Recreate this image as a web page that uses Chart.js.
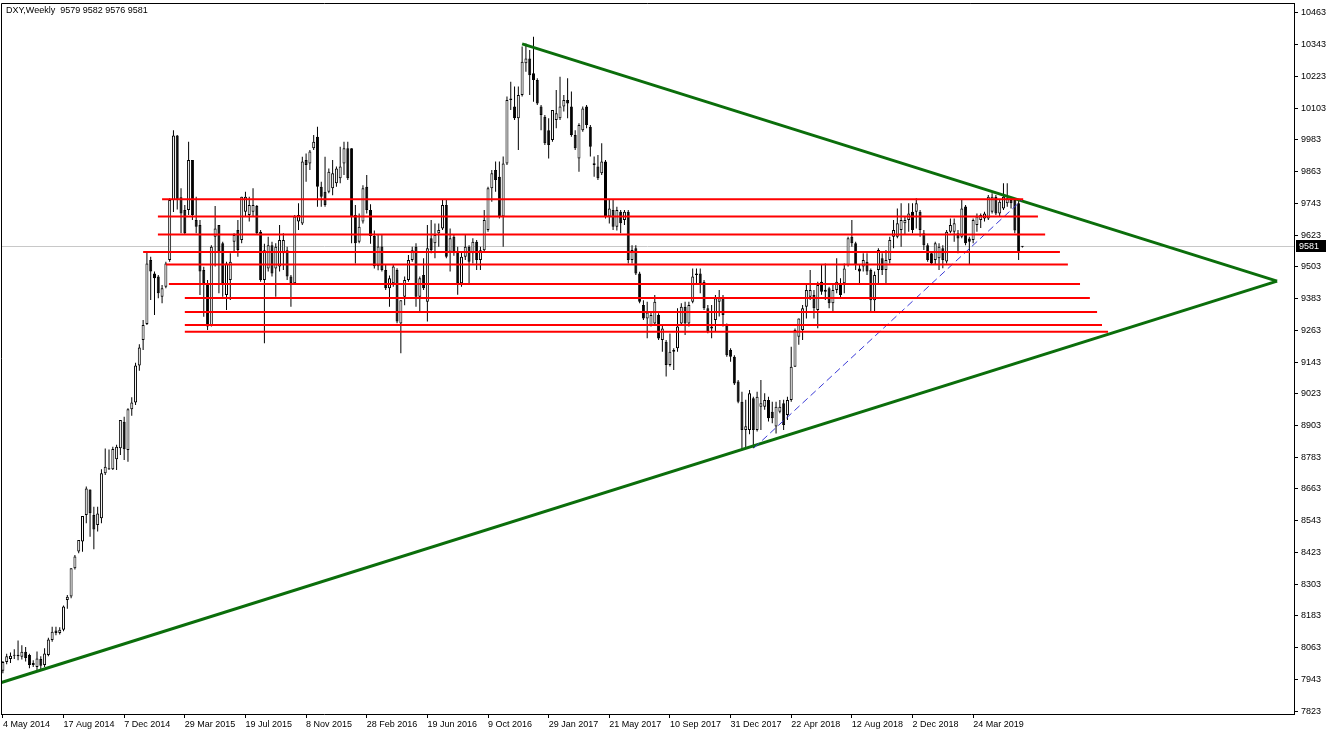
<!DOCTYPE html>
<html>
<head>
<meta charset="utf-8">
<script src="https://cdn.jsdelivr.net/npm/chart.js@4.4.1/dist/chart.umd.min.js"></script>
<style>
  html, body { margin: 0; padding: 0; background: #fff; }
  #wrap { width: 1332px; height: 734px; position: relative; }
</style>
</head>
<body>
<div id="wrap"><canvas id="dxyChart"></canvas></div>
<script>
// ===== DXY Weekly - candles (price x100) =====
const opens = [
  7975,8008,8020,8032,8036,8028,8047,8035,7997,7990,
  8020,7997,8035,8092,8128,8118,8130,8243,8256,8363,
  8426,8464,8564,8661,8564,8527,8552,8722,8737,8737,
  8775,8817,8917,8810,8964,8990,9130,9226,9287,9529,
  9478,9466,9390,9428,9529,9756,10000,9766,9718,9718,
  9907,9680,9661,9491,9441,9283,9617,9661,9592,9396,
  9453,9598,9642,9604,9711,9699,9711,9733,9636,9453,
  9497,9585,9497,9504,9554,9566,9466,9441,9674,9667,
  9907,9894,9951,9995,9806,9787,9787,9800,9819,9838,
  9894,9951,9951,9699,9598,9674,9806,9718,9620,9505,
  9580,9491,9422,9441,9491,9289,9390,9453,9529,9579,
  9390,9472,9371,9611,9592,9630,9648,9737,9560,9617,
  9560,9441,9541,9579,9554,9598,9529,9566,9642,9800,
  9869,9844,9693,9894,10134,10109,10065,10153,10273,10291,
  10235,10210,10109,10071,10020,9983,10058,10065,10109,10134,
  10109,10002,9913,10020,10109,10033,9895,9882,9857,9901,
  9693,9718,9655,9711,9680,9711,9529,9573,9478,9359,
  9308,9283,9289,9321,9226,9220,9132,9188,9195,9289,
  9352,9289,9371,9472,9478,9447,9346,9270,9302,9371,
  9384,9283,9188,9163,9069,8993,8886,8886,9006,8886,
  8974,8974,8999,8955,8899,8955,8987,8943,8999,9125,
  9239,9264,9352,9390,9396,9340,9447,9409,9422,9365,
  9415,9434,9441,9510,9617,9592,9497,9504,9522,9491,
  9377,9491,9535,9491,9529,9617,9617,9642,9668,9680,
  9711,9711,9711,9630,9585,9554,9529,9535,9573,9523,
  9636,9636,9630,9617,9731,9610,9604,9661,9680,9686,
  9686,9711,9768,9705,9724,9743,9756,9756,9743,9579
];
const highs = [
  8012,8040,8044,8057,8090,8072,8065,8040,8015,8048,
  8030,8060,8100,8142,8142,8140,8222,8262,8363,8413,
  8470,8561,8672,8661,8596,8596,8737,8816,8812,8823,
  8830,8924,8936,8968,9010,9140,9210,9302,9560,9541,
  9485,9472,9434,9522,9762,10020,10002,9800,9737,9976,
  9907,9768,9680,9503,9453,9585,9733,9661,9598,9522,
  9554,9630,9680,9768,9787,9768,9800,9737,9642,9590,
  9617,9598,9592,9661,9630,9579,9472,9699,9743,9919,
  9932,9945,10002,10033,9825,9919,9875,9907,9882,9957,
  9976,9976,9951,9737,9705,9812,9850,9740,9640,9623,
  9623,9510,9470,9510,9498,9377,9466,9548,9579,9592,
  9466,9535,9661,9680,9667,9667,9756,9756,9648,9623,
  9579,9560,9623,9585,9611,9604,9579,9718,9806,9869,
  9901,9901,9920,10147,10203,10185,10185,10336,10348,10323,
  10373,10216,10115,10077,10065,10096,10172,10222,10153,10216,
  10166,10020,10046,10109,10115,10039,9920,9926,9970,9907,
  9756,9756,9730,9718,9718,9718,9585,9585,9484,9377,
  9371,9334,9396,9327,9283,9226,9251,9195,9346,9365,
  9371,9371,9497,9497,9497,9453,9359,9359,9396,9415,
  9396,9289,9195,9169,9075,9031,9000,9037,9012,9031,
  9075,9025,9012,8993,8993,8999,9000,9012,9201,9270,
  9308,9359,9434,9491,9415,9447,9510,9516,9428,9441,
  9535,9460,9516,9617,9680,9598,9510,9554,9554,9497,
  9485,9573,9554,9567,9617,9680,9724,9743,9693,9743,
  9743,9762,9718,9642,9592,9560,9598,9592,9585,9642,
  9686,9686,9642,9756,9737,9617,9686,9705,9705,9711,
  9775,9781,9775,9756,9819,9819,9762,9762,9756,9582
];
const lows = [
  7966,8000,8005,8020,8015,8018,8010,7985,7990,7978,
  7975,7990,8030,8085,8110,8112,8125,8210,8250,8358,
  8420,8425,8533,8482,8435,8502,8533,8716,8735,8735,
  8735,8791,8772,8766,8940,8980,9110,9188,9283,9378,
  9321,9384,9365,9422,9522,9710,9720,9630,9624,9699,
  9680,9630,9396,9314,9264,9277,9504,9403,9390,9340,
  9378,9560,9541,9592,9693,9674,9693,9624,9447,9214,
  9485,9466,9390,9485,9491,9453,9352,9434,9642,9661,
  9825,9869,9945,9730,9730,9730,9781,9774,9806,9819,
  9850,9831,9592,9516,9592,9667,9705,9590,9497,9490,
  9485,9415,9352,9428,9290,9176,9358,9447,9522,9352,
  9334,9415,9296,9554,9535,9579,9642,9535,9485,9545,
  9397,9428,9529,9441,9516,9491,9491,9560,9636,9749,
  9787,9686,9579,9888,10096,10058,9945,10147,10241,10153,
  10127,10115,10020,9964,9913,9976,10027,10058,10090,10065,
  9995,9945,9863,10014,10027,9920,9844,9831,9850,9686,
  9667,9642,9640,9630,9661,9516,9516,9472,9365,9302,
  9233,9277,9283,9226,9182,9088,9126,9113,9182,9283,
  9245,9277,9365,9441,9403,9340,9252,9233,9258,9315,
  9277,9163,9144,9056,8987,8810,8817,8870,8817,8880,
  8886,8962,8918,8911,8873,8949,8886,8924,8993,9125,
  9208,9226,9308,9378,9308,9271,9397,9378,9346,9334,
  9403,9384,9403,9504,9579,9491,9441,9485,9472,9334,
  9334,9441,9472,9441,9516,9573,9611,9579,9623,9636,
  9630,9648,9617,9567,9522,9510,9510,9491,9498,9516,
  9630,9598,9554,9611,9585,9510,9592,9636,9650,9674,
  9680,9705,9699,9693,9718,9730,9724,9630,9529,9576
];
const closes = [
  8008,8030,8032,8036,8030,8047,8024,7997,8005,8022,
  7994,8041,8094,8123,8118,8130,8218,8255,8363,8407,
  8470,8561,8665,8571,8510,8570,8722,8747,8740,8814,
  8823,8924,8813,8964,8990,9130,9198,9283,9516,9485,
  9460,9403,9422,9516,9756,10000,9756,9705,9630,9907,
  9699,9655,9485,9441,9277,9579,9648,9560,9441,9516,
  9522,9623,9567,9768,9768,9737,9737,9630,9453,9566,
  9585,9478,9579,9604,9604,9466,9441,9693,9699,9901,
  9888,9939,9976,9806,9768,9737,9863,9857,9875,9882,
  9951,9838,9693,9592,9655,9800,9718,9620,9505,9580,
  9491,9422,9460,9504,9296,9377,9453,9529,9566,9390,
  9460,9422,9573,9566,9623,9642,9737,9541,9611,9560,
  9441,9541,9579,9522,9598,9529,9566,9680,9800,9857,
  9831,9693,9894,10134,10140,10065,10153,10279,10291,10228,
  10210,10121,10077,9970,9964,10096,10084,10109,10134,10121,
  10002,9951,10039,10102,10039,9957,9888,9838,9901,9693,
  9724,9655,9718,9668,9711,9529,9567,9478,9371,9308,
  9330,9321,9371,9232,9270,9132,9182,9182,9277,9352,
  9289,9359,9466,9478,9440,9346,9258,9277,9384,9384,
  9321,9169,9163,9062,8993,8886,8900,9025,8886,9012,
  8987,8999,8930,8930,8974,8974,8905,8999,9125,9264,
  9308,9346,9415,9415,9346,9434,9409,9416,9365,9415,
  9447,9396,9497,9611,9592,9510,9485,9529,9485,9377,
  9472,9567,9491,9529,9604,9642,9668,9680,9680,9705,
  9642,9743,9642,9585,9529,9516,9592,9579,9529,9636,
  9661,9668,9610,9724,9592,9598,9680,9693,9699,9705,
  9768,9768,9705,9749,9768,9762,9743,9640,9560,9581
];

// x axis: one unit = one week, week 0 = 4 May 2014
const dateTickWeeks = [0, 16, 32, 48, 64, 80, 96, 112, 128, 144, 160, 176, 192, 208, 224, 240, 256];
const dateLabels = ['4 May 2014', '17 Aug 2014', '7 Dec 2014', '29 Mar 2015', '19 Jul 2015', '8 Nov 2015',
  '28 Feb 2016', '19 Jun 2016', '9 Oct 2016', '29 Jan 2017', '21 May 2017', '10 Sep 2017',
  '31 Dec 2017', '22 Apr 2018', '12 Aug 2018', '2 Dec 2018', '24 Mar 2019'];
const priceTicks = [7823, 7943, 8063, 8183, 8303, 8423, 8543, 8663, 8783, 8903, 9023, 9143,
  9263, 9383, 9503, 9623, 9743, 9863, 9983, 10103, 10223, 10343, 10463];

// drawn objects, in (week, price) units
const upperTrend = [[137.0, 10346], [336.2, 9449]];
const lowerTrend = [[-0.8, 7929], [336.2, 9449]];
const blueTrend = [[198.2, 8818], [268.9, 9756]];
const redLevels = [9759, 9693, 9625, 9559, 9512, 9438, 9385, 9332, 9283, 9257];
const redStarts = [42.0, 40.9, 40.9, 37.0, 43.0, 43.8, 48.0, 48.0, 48.0, 48.0];
const redEnds   = [269.2, 273.1, 275.0, 278.9, 281.0, 284.2, 286.8, 288.7, 290.0, 291.6];

const symbolTitle = 'DXY,Weekly  9579 9582 9576 9581';
const lastPrice = closes[closes.length - 1];

Chart.defaults.font.family = '"Liberation Sans", "DejaVu Sans", sans-serif';
Chart.defaults.font.size = 9;
Chart.defaults.color = '#000';

// ----- datasets -----
const wickData = lows.map((l, i) => ({ x: i, y: [l, highs[i]] }));
const bodyData = opens.map((o, i) => ({ x: i, y: [o, closes[i]] }));
const bodyColors = opens.map((o, i) => closes[i] >= o ? '#ffffff' : '#000000');

function lineFrom(points) {
  return points.map(p => ({ x: p[0], y: p[1] }));
}

const lineDatasets = [];
redLevels.forEach((lvl, k) => {
  lineDatasets.push({
    type: 'line', order: 0,
    data: [{ x: redStarts[k], y: lvl }, { x: redEnds[k], y: lvl }],
    borderColor: '#ff0000', borderWidth: 2, pointRadius: 0, fill: false
  });
});
lineDatasets.push({
  type: 'line', order: 0, data: lineFrom(blueTrend),
  borderColor: '#3b3bd6', borderWidth: 1, borderDash: [7, 4], pointRadius: 0, fill: false
});
lineDatasets.push({
  type: 'line', order: 0, data: lineFrom(upperTrend),
  borderColor: '#0b6e0b', borderWidth: 3, pointRadius: 0, fill: false
});
lineDatasets.push({
  type: 'line', order: 0, data: lineFrom(lowerTrend),
  borderColor: '#0b6e0b', borderWidth: 3, pointRadius: 0, fill: false
});

// ----- frame, price line, price tag, title -----
const mtFrame = {
  id: 'mtFrame',
  beforeDatasetsDraw(chart) {
    const { ctx, chartArea: a, scales: { y } } = chart;
    const py = Math.round(y.getPixelForValue(lastPrice)) + 0.5;
    ctx.save();
    ctx.strokeStyle = '#c8c8c8';
    ctx.lineWidth = 1;
    ctx.beginPath();
    ctx.moveTo(a.left, py);
    ctx.lineTo(a.right, py);
    ctx.stroke();
    ctx.restore();
  },
  afterDraw(chart) {
    const { ctx, chartArea: a, scales: { y } } = chart;
    ctx.save();
    ctx.strokeStyle = '#000';
    ctx.lineWidth = 1;
    ctx.beginPath();
    ctx.moveTo(a.left + 0.5, a.bottom);
    ctx.lineTo(a.left + 0.5, a.top + 0.5);
    ctx.lineTo(a.right, a.top + 0.5);
    ctx.stroke();

    ctx.font = '9px "Liberation Sans", "DejaVu Sans", sans-serif';
    ctx.fillStyle = '#000';
    ctx.textBaseline = 'middle';
    ctx.textAlign = 'left';
    ctx.fillText(symbolTitle, a.left + 5, a.top + 8);

    const py = Math.round(y.getPixelForValue(lastPrice));
    ctx.fillStyle = '#000';
    ctx.fillRect(a.right + 2, py - 6, 30, 12);
    ctx.fillStyle = '#fff';
    ctx.fillText(String(lastPrice), a.right + 5, py + 0.5);
    ctx.restore();
  }
};

function noPad(s) {
  s.paddingTop = 0;
  s.paddingBottom = 0;
  s.paddingLeft = 0;
  s.paddingRight = 0;
}

new Chart(document.getElementById('dxyChart'), {
  type: 'bar',
  data: {
    datasets: [
      ...lineDatasets,
      {
        order: 1, data: bodyData, grouped: false,
        barThickness: 3, minBarLength: 1, inflateAmount: 0,
        backgroundColor: bodyColors, borderColor: '#000', borderWidth: 1, borderSkipped: false
      },
      {
        order: 2, data: wickData, grouped: false,
        barThickness: 1, inflateAmount: 0,
        backgroundColor: '#000', borderWidth: 0
      }
    ]
  },
  options: {
    responsive: true,
    maintainAspectRatio: false,
    animation: false,
    devicePixelRatio: 1,
    layout: { padding: { top: 3, left: 1, right: 0, bottom: 0 } },
    plugins: { legend: { display: false }, tooltip: { enabled: false } },
    scales: {
      x: {
        type: 'linear', min: -0.5, max: 340.66, offset: false,
        grid: { display: true, offset: false, drawOnChartArea: false, drawTicks: true, tickLength: 4, color: '#000' },
        border: { display: true, color: '#000' },
        ticks: {
          autoSkip: false, maxRotation: 0, align: 'start', padding: 1,
          callback: (v, i) => dateLabels[i]
        },
        afterBuildTicks: s => { s.ticks = dateTickWeeks.map(v => ({ value: v })); },
        afterFit: s => { s.height = 20; noPad(s); }
      },
      y: {
        type: 'linear', position: 'right', min: 7811.8, max: 10500.8,
        grid: { display: true, drawOnChartArea: false, drawTicks: true, tickLength: 4, color: '#000' },
        border: { display: true, color: '#000' },
        ticks: { padding: 3, callback: v => String(v) },
        afterBuildTicks: s => { s.ticks = priceTicks.map(v => ({ value: v })); },
        afterFit: s => { s.width = 38; noPad(s); }
      }
    }
  },
  plugins: [mtFrame]
});
</script>
</body>
</html>
